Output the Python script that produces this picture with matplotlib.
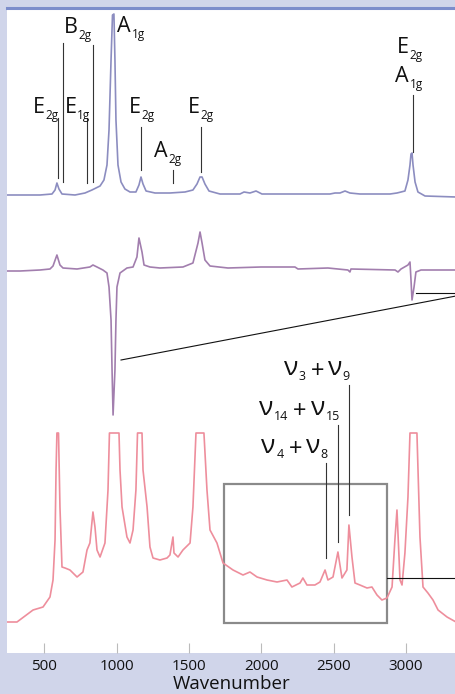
import matplotlib
matplotlib.use('Agg')
import matplotlib.pyplot as plt
from matplotlib.patches import Rectangle
from matplotlib.transforms import IdentityTransform

plt.rcParams['font.family'] = ['Open Sans', 'DejaVu Sans']

# spectra (wavenumber, intensity above own baseline)
top_wn = [242, 470, 553, 574, 587, 601, 622, 712, 781, 829, 857, 885, 912, 933, 947, 961,
          971, 981, 988, 995, 1009, 1030, 1057, 1092, 1133, 1154, 1168, 1182, 1203, 1265,
          1368, 1472, 1527, 1555, 1576, 1590, 1610, 1638, 1714, 1852, 1880, 1921, 1963,
          2004, 2267, 2474, 2509, 2543, 2578, 2612, 2681, 2889, 2937, 2965, 2992, 3013,
          3027, 3034, 3041, 3048, 3062, 3082, 3131, 3345]
top_int = [0, 0, 1, 5, 12, 6, 1, 0, 2, 5, 7, 9, 15, 30, 65, 135,
           180, 181, 135, 75, 30, 13, 6, 3, 3, 10, 18, 11, 4, 2,
           2, 3, 5, 11, 18, 18, 11, 4, 1, 1, 3, 2, 4,
           1, 1, 1, 2, 2, 4, 2, 1, 1, 2, 3, 4, 15,
           30, 41, 42, 30, 13, 3, -1, -2]

mid_wn = [242, 332, 470, 539, 560, 587, 608, 629, 726, 815, 836, 864, 905, 933, 947, 961,
          968, 975, 988, 995, 1002, 1023, 1071, 1113, 1140, 1154, 1175, 1189, 1230, 1299,
          1458, 1527, 1562, 1576, 1590, 1610, 1645, 1769, 1997, 2232, 2253, 2460, 2598,
          2612, 2619, 2924, 2944, 2965, 3013, 3027, 3034, 3041, 3055, 3068, 3103, 3345]
mid_int = [-1, -1, 0, 1, 4, 15, 5, 2, 1, 3, 5, 3, 0, -3, -17, -50,
           -100, -145, -100, -50, -17, -3, 2, 3, 13, 32, 18, 5, 3, 2,
           3, 7, 27, 38, 27, 10, 4, 2, 3, 3, 1, 2, 0,
           -2, 1, 0, -2, 1, 5, 8, -10, -30, -17, -2, 0, 0]

bot_wn = [242, 311, 422, 491, 539, 560, 574, 581, 587, 598, 608, 622, 643, 677, 726, 767,
          795, 815, 836, 850, 864, 885, 919, 940, 950, 1016, 1023, 1037, 1071, 1092, 1113,
          1133, 1144, 1175, 1182, 1210, 1230, 1251, 1299, 1348, 1368, 1389, 1396, 1424,
          1458, 1507, 1527, 1548, 1603, 1624, 1645, 1693, 1735, 1804, 1873, 1921, 1970,
          2039, 2108, 2177, 2211, 2267, 2287, 2315, 2370, 2405, 2440, 2460, 2495, 2529,
          2557, 2591, 2605, 2626, 2647, 2681, 2730, 2764, 2799, 2833, 2868, 2903, 2924,
          2937, 2958, 2972, 2992, 3013, 3027, 3075, 3096, 3117, 3151, 3186, 3221, 3283, 3345]
bot_int = [0, 0, 12, 15, 25, 42, 82, 152, 189, 189, 115, 55, 54, 52, 45, 50,
           72, 79, 110, 95, 72, 65, 79, 132, 189, 189, 152, 115, 85, 79, 92,
           132, 189, 189, 152, 115, 75, 64, 62, 64, 67, 85, 69, 65,
           72, 79, 115, 189, 189, 132, 92, 79, 59, 52, 47, 50, 45,
           42, 40, 42, 35, 39, 44, 37, 37, 40, 52, 42, 45, 70,
           44, 52, 97, 65, 39, 37, 34, 35, 27, 22, 24, 35, 85,
           112, 42, 37, 69, 125, 189, 189, 85, 35, 29, 22, 12, 5, 0]

offsets = [458, 383, 31]
colors = ['#8C8DC0', '#A27EAE', '#EE8E9C']
tick_vals = [500, 1000, 1500, 2000, 2500, 3000]

fig = plt.figure(figsize=(4.56, 6.94), dpi=100)
fig.patch.set_facecolor('#D0D5EA')
ax = fig.add_axes([7 / 456, 41 / 694, 449 / 456, 645 / 694])
ax.set_facecolor('white')

for wn, inten, off, c in zip([top_wn, mid_wn, bot_wn], [top_int, mid_int, bot_int], offsets, colors):
    ax.plot(wn, [v + off for v in inten], color=c, lw=1.2, solid_joinstyle='round')

ax.set_xlim(242, 3345)
ax.set_ylim(0, 645)

renderer = fig.canvas.get_renderer()


def rich_label(x, y, pieces, ha='center'):
    # pieces: (text, fontsize, dy in px, gap before in px)
    bx, by = ax.transData.transform((x, y))
    arts, cur = [], 0.0
    for s, size, dy, gap in pieces:
        cur += gap
        t = fig.text(0, 0, s, fontsize=size, ha='left', va='baseline',
                     color='#111111', transform=IdentityTransform())
        w = t.get_window_extent(renderer).width
        arts.append((t, cur, dy))
        cur += w
    shift = -cur / 2 if ha == 'center' else -cur
    for t, cx, dy in arts:
        t.set_position((bx + shift + cx, by + dy))


def mode(x, y, letter, sub):
    rich_label(x, y, [(letter, 15.5, 0, 0), (sub, 8.5, -6, 0.5)])


def combo(x, y, a, b):
    rich_label(x, y, [('ν', 19, 0, 0), (a, 9, -5.5, 0.5), ('+', 17, -3, 5),
                      ('ν', 19, 0, 4), (b, 9, -5.5, 0.5)], ha='right')


# mode labels, top spectrum
lines_top = [(594, 475, 535), (629, 471, 610), (795, 470, 535), (836, 471, 608),
             (1168, 483, 526), (1389, 470, 483), (1583, 481, 526), (3048, 501, 558)]
for x, y0, y1 in lines_top:
    ax.plot([x, x], [y0, y1], color='#333333', lw=0.8)
mode(508, 540, 'E', '2g')
mode(729, 620, 'B', '2g')
mode(729, 540, 'E', '1g')
mode(1099, 621, 'A', '1g')
mode(1171, 540, 'E', '2g')
mode(1355, 496, 'A', '2g')
mode(1579, 540, 'E', '2g')
mode(3024, 600, 'E', '2g')
mode(3020, 571, 'A', '1g')

# combination bands, bottom spectrum
combo(2612, 278, '3', '9')
combo(2543, 238, '14', '15')
combo(2460, 200, '4', '8')
for x, y0, y1 in [(2605, 138, 268), (2529, 111, 228), (2446, 95, 190)]:
    ax.plot([x, x], [y0, y1], color='#333333', lw=0.8)

# zoom box and pointer lines
ax.add_patch(Rectangle((1742, 30), 2868 - 1742, 139, fill=False, ec='#8A8A8A', lw=1.6))
ax.plot([2868, 3400], [75, 75], color='#111111', lw=0.8)
ax.plot([1030, 3345], [293, 357], color='#111111', lw=0.8)
ax.plot([3068, 3400], [360, 360], color='#111111', lw=0.8)

for s in ['left', 'right', 'bottom']:
    ax.spines[s].set_visible(False)
ax.spines['top'].set_color('#7C8DCB')
ax.spines['top'].set_linewidth(2.2)

ax.set_yticks([])
ax.set_xticks(tick_vals)
ax.tick_params(axis='x', direction='in', length=7, width=0.8, color='#BBBBBB',
               labelsize=11, pad=4, labelcolor='#111111')
ax.set_xlabel('Wavenumber', fontsize=13.5, labelpad=1, color='#111111')

fig.savefig('out.png', dpi=100, facecolor=fig.get_facecolor())
